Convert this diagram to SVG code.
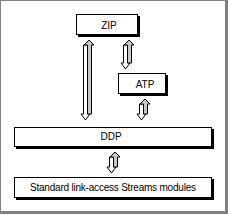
<svg xmlns="http://www.w3.org/2000/svg" width="228" height="215" viewBox="0 0 228 215">
<style>
.box{fill:#fff;stroke:#000;stroke-width:1}
.shadow{fill:#000}
.lbl{font-family:"Liberation Sans",Arial,sans-serif;font-size:10px;fill:#000;text-anchor:middle}
.up{fill:#c8c8c8;stroke:#000;stroke-width:1;stroke-linejoin:miter}
.dn{fill:#fff;stroke:#000;stroke-width:1;stroke-linejoin:miter}
</style>
<rect x="0" y="0" width="228" height="214" fill="#808080"/>
<rect x="1" y="1" width="224" height="210" fill="#fff"/>
<g id="connectors">
  <g id="zip-atp">
    <path class="dn" d="M123.5 45 L127.5 45 L127.5 63 L130 63 L125.5 69 L121 63 L123.5 63 Z"/>
    <path class="up" d="M127.5 63 L127.5 45 L124 45 L129 40 L134 45 L131.5 45 L131.5 63 Z"/>
  </g>
  <g id="zip-ddp">
    <path class="dn" d="M83.5 45 L87.5 45 L87.5 114 L90 114 L85.5 120 L81 114 L83.5 114 Z"/>
    <path class="up" d="M87.5 114 L87.5 45 L84 45 L89 40 L94 45 L91.5 45 L91.5 114 Z"/>
  </g>
  <g id="atp-ddp">
    <path class="dn" d="M139.5 104 L143.5 104 L143.5 114 L146 114 L141.5 120 L137 114 L139.5 114 Z"/>
    <path class="up" d="M143.5 114 L143.5 104 L140 104 L145 99 L150 104 L147.5 104 L147.5 114 Z"/>
  </g>
  <g id="ddp-link">
    <path class="dn" d="M109.5 157 L113.5 157 L113.5 167 L116 167 L111.5 173 L107 167 L109.5 167 Z"/>
    <path class="up" d="M113.5 167 L113.5 157 L110 157 L115 152 L120 157 L117.5 157 L117.5 167 Z"/>
  </g>
</g>
<g id="zip">
  <rect class="shadow" x="78" y="16" width="62" height="21"/>
  <rect class="box" x="76.5" y="14.5" width="61" height="20"/>
  <text class="lbl" x="109" y="28.5">ZIP</text>
</g>
<g id="atp">
  <rect class="shadow" x="120" y="75" width="48" height="21"/>
  <rect class="box" x="118.5" y="73.5" width="47" height="20"/>
  <text class="lbl" x="145" y="87.5">ATP</text>
</g>
<g id="ddp">
  <rect class="shadow" x="16" y="129" width="198" height="20"/>
  <rect class="box" x="14.5" y="127.5" width="197" height="19"/>
  <text class="lbl" x="111" y="140">DDP</text>
</g>
<g id="link">
  <rect class="shadow" x="16" y="179" width="198" height="21"/>
  <rect class="box" x="14.5" y="177.5" width="197" height="20"/>
  <text class="lbl" x="113" y="191" font-size="9.6" textLength="166" lengthAdjust="spacing">Standard link-access Streams modules</text>
</g>
</svg>
